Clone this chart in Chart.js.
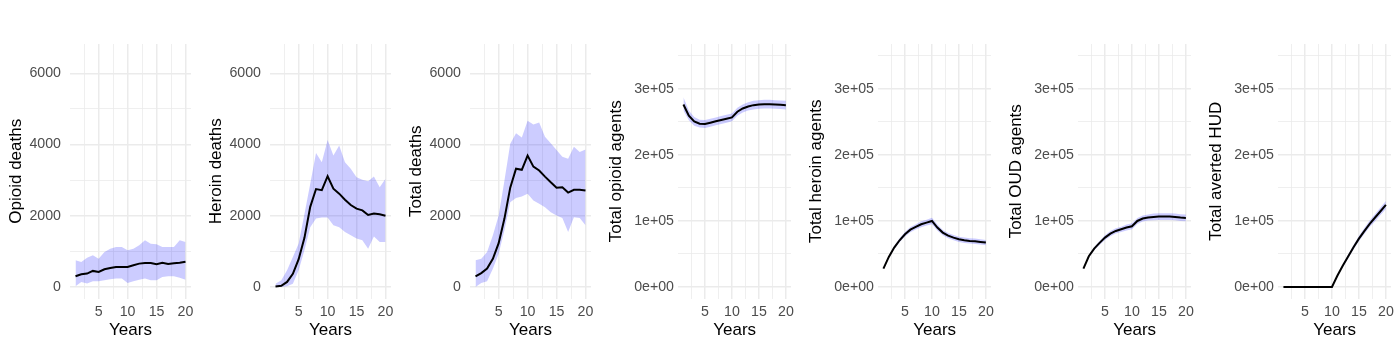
<!DOCTYPE html>
<html>
<head>
<meta charset="utf-8">
<script src="https://cdn.jsdelivr.net/npm/chart.js@4/dist/chart.umd.min.js"></script>
<style>
  html, body { margin: 0; padding: 0; background: #ffffff; }
  #wrap { position: relative; width: 1400px; height: 350px; }
  #wrap canvas { position: absolute; top: 0; }
</style>
</head>
<body>
<div id="wrap"></div>
<script>
// Simulation years
const years = [1, 2, 3, 4, 5, 6, 7, 8, 9, 10, 11, 12, 13, 14, 15, 16, 17, 18, 19, 20];

// Opioid deaths: mean and interval
const opioidDeathsMean = [300, 355, 375, 450, 420, 495, 530, 560, 560, 560, 610, 655, 670, 670, 635, 680, 645, 665, 680, 710];
const opioidDeathsHigh = [750, 700, 820, 890, 790, 980, 1075, 1120, 1120, 1030, 1075, 1170, 1310, 1215, 1200, 1120, 1120, 1120, 1310, 1260];
const opioidDeathsLow  = [20, 140, 95, 160, 160, 190, 215, 235, 235, 110, 160, 205, 235, 190, 190, 280, 300, 300, 260, 205];

// Heroin deaths
const heroinDeathsMean = [10, 30, 140, 370, 780, 1380, 2250, 2750, 2720, 3110, 2760, 2620, 2450, 2300, 2200, 2150, 2020, 2060, 2040, 2000];
const heroinDeathsHigh = [90, 190, 470, 840, 1220, 2050, 2900, 3760, 3500, 4130, 3690, 3970, 3500, 3320, 3080, 3010, 2970, 3100, 2800, 3040];
const heroinDeathsLow  = [0, 0, 20, 90, 470, 1030, 1680, 1920, 1950, 1950, 1730, 1680, 1540, 1450, 1360, 1310, 1070, 1420, 1260, 1260];

// Total deaths
const totalDeathsMean = [300, 390, 515, 790, 1230, 1920, 2790, 3320, 3290, 3690, 3380, 3270, 3100, 2940, 2790, 2800, 2650, 2730, 2730, 2710];
const totalDeathsHigh = [750, 790, 980, 1450, 2010, 2990, 4020, 4320, 4200, 4670, 4560, 4620, 4220, 4040, 3850, 3660, 3600, 3940, 3790, 3860];
const totalDeathsLow  = [0, 110, 160, 510, 930, 1590, 2380, 2500, 2540, 2620, 2430, 2340, 2240, 2100, 2010, 1940, 1540, 1960, 1940, 1730];

// Total opioid agents
const opioidAgentsMean = [276000, 259000, 250500, 247000, 246500, 248500, 250500, 252500, 254500, 256500, 265000, 270000, 273000, 275000, 276000, 276500, 276500, 276000, 275500, 275000];
const opioidAgentsHigh = [287000, 267000, 257000, 253000, 252500, 254500, 256500, 258500, 260500, 262500, 271000, 276000, 279500, 281500, 282500, 283000, 283000, 282500, 282000, 281500];
const opioidAgentsLow  = [267000, 252000, 244000, 241000, 240500, 242500, 244500, 246500, 248500, 250500, 259000, 264000, 267000, 268500, 269500, 270000, 270000, 269500, 269000, 268500];

// Total heroin agents
const heroinAgentsMean = [27700, 45400, 59500, 70600, 79700, 86700, 90800, 94800, 97300, 99800, 89800, 82200, 77700, 74600, 72100, 70600, 69600, 69100, 68100, 67100];
const heroinAgentsHigh = [28700, 47400, 62000, 73600, 83200, 90700, 94800, 99300, 101800, 104800, 94300, 86200, 81700, 78600, 76100, 74600, 73600, 73100, 72100, 71100];
const heroinAgentsLow  = [26700, 43400, 57000, 67600, 76200, 82700, 86800, 90300, 92800, 94800, 85300, 78200, 73700, 70600, 68100, 66600, 65600, 65100, 64100, 63100];

// Total OUD agents
const oudAgentsMean = [27700, 46400, 58000, 66600, 74600, 80700, 84700, 87200, 89800, 91800, 99800, 103400, 104900, 105900, 106400, 106400, 106400, 105900, 104900, 104400];
const oudAgentsHigh = [28700, 48400, 60500, 69600, 78100, 84700, 88700, 91200, 94300, 96300, 104300, 107900, 109400, 110900, 111400, 111400, 111400, 110900, 109900, 109400];
const oudAgentsLow  = [26700, 44400, 55500, 63600, 71100, 76700, 80700, 83200, 85300, 87300, 95300, 98900, 100400, 100900, 101400, 101400, 101400, 100900, 99900, 99400];

// Total averted HUD
const avertedHudMean = [0, 0, 0, 0, 0, 0, 0, 0, 0, 0, 17000, 32000, 46000, 60000, 73000, 84500, 95500, 105000, 114500, 124000];
const avertedHudHigh = [0, 0, 0, 0, 0, 0, 0, 0, 0, 0, 18000, 34000, 49000, 63500, 77000, 89000, 100500, 110500, 120000, 130000];
const avertedHudLow  = [0, 0, 0, 0, 0, 0, 0, 0, 0, 0, 16000, 30000, 43000, 56500, 69000, 80000, 90500, 99500, 109000, 118000];

// Axis breaks and labels
const xMajorTicks = [5, 10, 15, 20];
const xMinorTicks = [2.5, 7.5, 12.5, 17.5];
const deathMajorTicks = [0, 2000, 4000, 6000];
const deathMinorTicks = [1000, 3000, 5000];
const deathTickLabels = ['0', '2000', '4000', '6000'];
const agentMajorTicks = [0, 100000, 200000, 300000];
const agentMinorTicks = [50000, 150000, 250000, 350000];
const agentTickLabels = ['0e+00', '1e+05', '2e+05', '3e+05'];

const deathAxis = { min: -325, max: 6825, major: deathMajorTicks, minor: deathMinorTicks, labels: deathTickLabels, width: 70, pad: 9 };
const agentAxis = { min: -17500, max: 367500, major: agentMajorTicks, minor: agentMinorTicks, labels: agentTickLabels, width: 78.3, pad: 4.3 };

const panels = [
  { title: 'Opioid deaths',        mean: opioidDeathsMean, high: opioidDeathsHigh, low: opioidDeathsLow, axis: deathAxis },
  { title: 'Heroin deaths',        mean: heroinDeathsMean, high: heroinDeathsHigh, low: heroinDeathsLow, axis: deathAxis },
  { title: 'Total deaths',         mean: totalDeathsMean,  high: totalDeathsHigh,  low: totalDeathsLow,  axis: deathAxis },
  { title: 'Total opioid agents',  mean: opioidAgentsMean, high: opioidAgentsHigh, low: opioidAgentsLow, axis: agentAxis },
  { title: 'Total heroin agents',  mean: heroinAgentsMean, high: heroinAgentsHigh, low: heroinAgentsLow, axis: agentAxis },
  { title: 'Total OUD agents',     mean: oudAgentsMean,    high: oudAgentsHigh,    low: oudAgentsLow,    axis: agentAxis },
  { title: 'Total averted HUD',    mean: avertedHudMean,   high: avertedHudHigh,   low: avertedHudLow,   axis: agentAxis }
];

const FONT = "'Liberation Sans', Arial, Helvetica, sans-serif";
const GRID = '#EBEBEB';
const toPoints = arr => arr.map((v, i) => ({ x: years[i], y: v }));

function gridWidth(major) {
  return ctx => (ctx.tick && major.includes(ctx.tick.value)) ? 1.5 : 0.8;
}

const wrap = document.getElementById('wrap');

panels.forEach((p, idx) => {
  const canvas = document.createElement('canvas');
  canvas.width = 200;
  canvas.height = 350;
  canvas.style.left = (idx * 200) + 'px';
  wrap.appendChild(canvas);

  const ax = p.axis;

  new Chart(canvas, {
    type: 'line',
    data: {
      datasets: [
        {
          label: p.title,
          data: toPoints(p.mean),
          borderColor: '#000000',
          borderWidth: 2,
          pointRadius: 0,
          tension: 0,
          fill: false,
          order: 0
        },
        {
          label: 'upper',
          data: toPoints(p.high),
          borderWidth: 0,
          borderColor: 'rgba(0,0,0,0)',
          backgroundColor: 'rgba(0,0,255,0.2)',
          pointRadius: 0,
          tension: 0,
          fill: '+1',
          order: 1
        },
        {
          label: 'lower',
          data: toPoints(p.low),
          borderWidth: 0,
          borderColor: 'rgba(0,0,0,0)',
          pointRadius: 0,
          tension: 0,
          fill: false,
          order: 2
        }
      ]
    },
    options: {
      responsive: false,
      animation: false,
      events: [],
      layout: { padding: { top: 44, right: 9, bottom: 0, left: 0 } },
      plugins: {
        legend: { display: false },
        tooltip: { enabled: false },
        filler: { propagate: false }
      },
      scales: {
        x: {
          type: 'linear',
          min: 0.05,
          max: 20.95,
          border: { display: false },
          afterBuildTicks: scale => {
            scale.ticks = xMajorTicks.concat(xMinorTicks).sort((a, b) => a - b).map(v => ({ value: v }));
          },
          afterFit: scale => { scale.height = 51.5; },
          grid: { color: GRID, lineWidth: gridWidth(xMajorTicks), drawTicks: false },
          ticks: {
            autoSkip: false,
            maxRotation: 0,
            padding: 5.2,
            color: '#4D4D4D',
            font: { family: FONT, size: 14.2 },
            callback: v => xMajorTicks.includes(v) ? String(v) : ''
          },
          title: {
            display: true,
            text: 'Years',
            color: '#000000',
            font: { family: FONT, size: 17, lineHeight: 1.2 },
            padding: { top: 0, bottom: 9.7 }
          }
        },
        y: {
          type: 'linear',
          min: ax.min,
          max: ax.max,
          border: { display: false },
          afterBuildTicks: scale => {
            scale.ticks = ax.major.concat(ax.minor).sort((a, b) => a - b).map(v => ({ value: v }));
          },
          afterFit: scale => { scale.width = ax.width; },
          grid: { color: GRID, lineWidth: gridWidth(ax.major), drawTicks: false },
          ticks: {
            autoSkip: false,
            padding: ax.pad,
            color: '#4D4D4D',
            font: { family: FONT, size: 14.2 },
            callback: v => {
              const i = ax.major.indexOf(v);
              return i >= 0 ? ax.labels[i] : '';
            }
          },
          title: {
            display: true,
            text: p.title,
            color: '#000000',
            font: { family: FONT, size: 17, lineHeight: 1.2 },
            padding: { top: 6.5, bottom: 0 }
          }
        }
      }
    }
  });
});
</script>
</body>
</html>
